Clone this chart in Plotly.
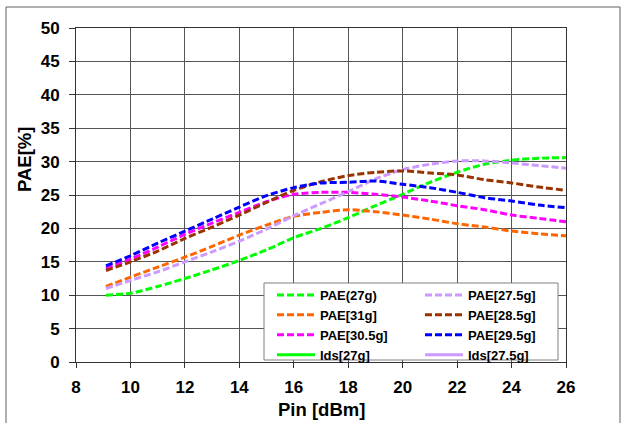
import plotly.graph_objects as go

# Input power sweep [dBm]
pin = [9.1, 10, 11, 12, 13, 14, 15, 16, 17, 18, 19, 20, 21, 22, 23, 24, 25, 26]

# Power-added efficiency [%] per gate width
pae_27g = [10.0, 10.3, 11.3, 12.5, 13.8, 15.2, 16.8, 18.6, 20.0, 21.6, 23.4, 25.1, 26.9, 28.4, 29.6, 30.2, 30.5, 30.6]
pae_27_5g = [11.0, 12.2, 13.5, 15.0, 16.5, 18.1, 19.9, 21.9, 23.7, 25.5, 27.4, 28.8, 29.6, 30.1, 30.1, 29.8, 29.4, 29.0]
pae_31g = [11.3, 12.7, 14.2, 15.7, 17.3, 19.0, 20.5, 21.8, 22.4, 22.8, 22.5, 22.0, 21.4, 20.7, 20.2, 19.6, 19.2, 18.9]
pae_28_5g = [13.7, 15.0, 16.6, 18.5, 20.2, 22.0, 23.9, 25.7, 27.0, 27.9, 28.4, 28.6, 28.3, 28.0, 27.3, 26.8, 26.2, 25.7]
pae_30_5g = [14.0, 15.4, 17.2, 19.1, 20.8, 22.4, 24.0, 25.1, 25.4, 25.4, 25.1, 24.7, 24.1, 23.4, 22.8, 22.0, 21.5, 21.0]
pae_29_5g = [14.4, 15.9, 17.8, 19.6, 21.4, 23.2, 24.9, 26.1, 26.8, 26.9, 27.1, 26.6, 26.1, 25.4, 24.6, 24.1, 23.5, 23.1]

# Drain current series (no points inside the PAE range)
ids_27g = [None]
ids_27_5g = [None]

x_ticks = [8, 10, 12, 14, 16, 18, 20, 22, 24, 26]
y_ticks = [0, 5, 10, 15, 20, 25, 30, 35, 40, 45, 50]

FONT = "Liberation Sans, Arial, sans-serif"
DASH = "7px,3px"

# left legend column / right legend column
series = [
    ("PAE(27g)", pae_27g, "#00FF00", DASH, "legend"),
    ("PAE[31g]", pae_31g, "#FF6600", DASH, "legend"),
    ("PAE[30.5g]", pae_30_5g, "#FF00FF", DASH, "legend"),
    ("PAE[27.5g]", pae_27_5g, "#CC99FF", DASH, "legend2"),
    ("PAE[28.5g]", pae_28_5g, "#993300", DASH, "legend2"),
    ("PAE[29.5g]", pae_29_5g, "#0000FF", DASH, "legend2"),
]

fig = go.Figure()
for name, vals, color, dash, leg in series:
    fig.add_trace(go.Scatter(
        x=pin, y=vals, name=name, mode="lines", legend=leg,
        line=dict(color=color, width=3, dash=dash, shape="spline", smoothing=0.8),
    ))

fig.add_trace(go.Scatter(x=pin[:len(ids_27g)], y=ids_27g, name="Ids[27g]", mode="lines",
                         legend="legend", showlegend=True, line=dict(color="#00FF00", width=3)))
fig.add_trace(go.Scatter(x=pin[:len(ids_27_5g)], y=ids_27_5g, name="Ids[27.5g]", mode="lines",
                         legend="legend2", showlegend=True, line=dict(color="#CC99FF", width=3)))

W, H = 623, 423
L, R, T, B = 76, 57, 28, 61
pw, ph = W - L - R, H - T - B


def px_x(p):
    return (p - L) / pw


def px_y(p):
    return (H - B - p) / ph


legend_common = dict(
    orientation="v", xanchor="left", yanchor="top",
    bgcolor="rgba(0,0,0,0)", borderwidth=0,
    font=dict(family=FONT, size=13, color="#000000", weight="bold"),
    tracegroupgap=0, itemwidth=38,
)

tick_font = dict(family=FONT, size=17, color="#000000", weight="bold")
title_font = dict(family=FONT, size=18.5, color="#000000", weight="bold")

fig.update_layout(
    width=W, height=H,
    margin=dict(l=L, r=R, t=T, b=B),
    paper_bgcolor="white", plot_bgcolor="white",
    font=dict(family=FONT, color="#000000"),
    showlegend=True,
    legend=dict(x=px_x(272), y=px_y(280), **legend_common),
    legend2=dict(x=px_x(420), y=px_y(280), **legend_common),
    xaxis=dict(
        range=[8, 26], tickvals=x_ticks, ticktext=[str(v) for v in x_ticks],
        showgrid=True, gridcolor="#555555", gridwidth=1,
        showline=True, linecolor="#333333", linewidth=1, mirror=True,
        ticks="outside", ticklen=5, tickcolor="#333333",
        tickfont=tick_font, ticklabelstandoff=5, zeroline=False,
    ),
    yaxis=dict(
        range=[0, 50], tickvals=y_ticks, ticktext=[str(v) for v in y_ticks],
        showgrid=True, gridcolor="#555555", gridwidth=1,
        showline=True, linecolor="#333333", linewidth=1, mirror=True,
        ticks="outside", ticklen=6, tickcolor="#333333",
        tickfont=tick_font, ticklabelstandoff=6, zeroline=False,
    ),
    annotations=[
        dict(text="PAE[%]", x=px_x(24), y=px_y(160), xref="paper", yref="paper",
             xanchor="center", yanchor="middle",
             showarrow=False, textangle=-90, font=title_font),
        dict(text="Pin [dBm]", x=px_x(321), y=px_y(409), xref="paper", yref="paper",
             xanchor="center", yanchor="middle",
             showarrow=False, font=title_font),
    ],
    shapes=[
        # legend frame
        dict(type="rect", xref="paper", yref="paper",
             x0=px_x(264), x1=px_x(558), y0=px_y(283), y1=px_y(360),
             fillcolor="white", line=dict(color="#808080", width=1), layer="above"),
        # chart frame
        dict(type="rect", xref="paper", yref="paper",
             x0=px_x(6), x1=px_x(620), y0=px_y(7), y1=px_y(440),
             fillcolor="rgba(0,0,0,0)", line=dict(color="#606060", width=1), layer="above"),
    ],
)

fig.write_html("out.html")
